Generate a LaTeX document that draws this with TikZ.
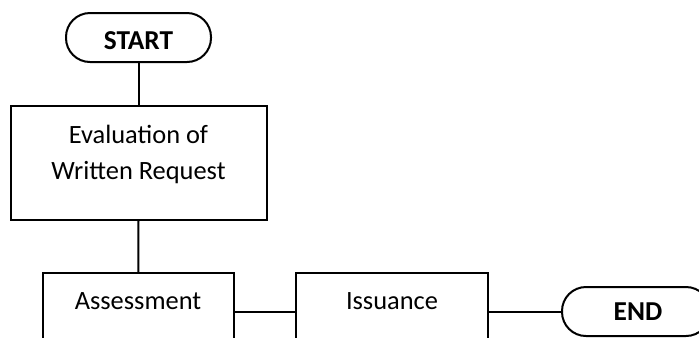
\documentclass[tikz,border=0pt]{standalone}
\usepackage{fontspec}
\setmainfont{Carlito}
\usetikzlibrary{calc}

\tikzset{
  term/.style={draw,line width=1.5pt,rounded corners=18pt,minimum width=108.75pt,minimum height=36.75pt,inner sep=0pt},
  box/.style={draw,line width=1.5pt,inner sep=0pt},
  txt/.style={anchor=base,inner sep=0pt,font=\fontsize{19.8}{27}\selectfont}
}

\begin{document}
\begin{tikzpicture}[x=0.75pt,y=-0.75pt]
    \useasboundingbox (0,0) rectangle (699,337);
    \clip (0,0) rectangle (699,337);
    \node[term] (start) at (138.5,37.5) {};
    \node[box,minimum width=192pt,minimum height=85.5pt] (eval) at (138.5,162.5) {};
    \node[box,minimum width=143.6pt,minimum height=95pt] (assess) at (138.3,336.5) {};
    \node[box,minimum width=144pt,minimum height=95pt] (issue) at (392,336.5) {};
    \node[term,minimum width=111pt] (end) at (636,311.5) {};
    \node[txt,font=\fontsize{20.5}{27}\selectfont\bfseries] (starttxt) at (138.5,49) {START};
    \node[txt,align=center] (evaltxt) at (138.5,179) {Evaluation of\\Written Request};
    \node[txt] (assesstxt) at (138,309) {Assessment};
    \node[txt] (issuetxt) at (392,309) {Issuance};
    \node[txt,font=\fontsize{20.5}{27}\selectfont\bfseries] (endtxt) at (638,320) {END};
    \draw[line width=1.5pt] (start.south) -- (eval.north);
    \draw[line width=1.5pt] (eval.south) -- (assess.north);
    \draw[line width=1.5pt] (assess.east |- end.west) -- (issue.west |- end.west);
    \draw[line width=1.5pt] (issue.east |- end.west) -- (end.west);
\end{tikzpicture}
\end{document}
